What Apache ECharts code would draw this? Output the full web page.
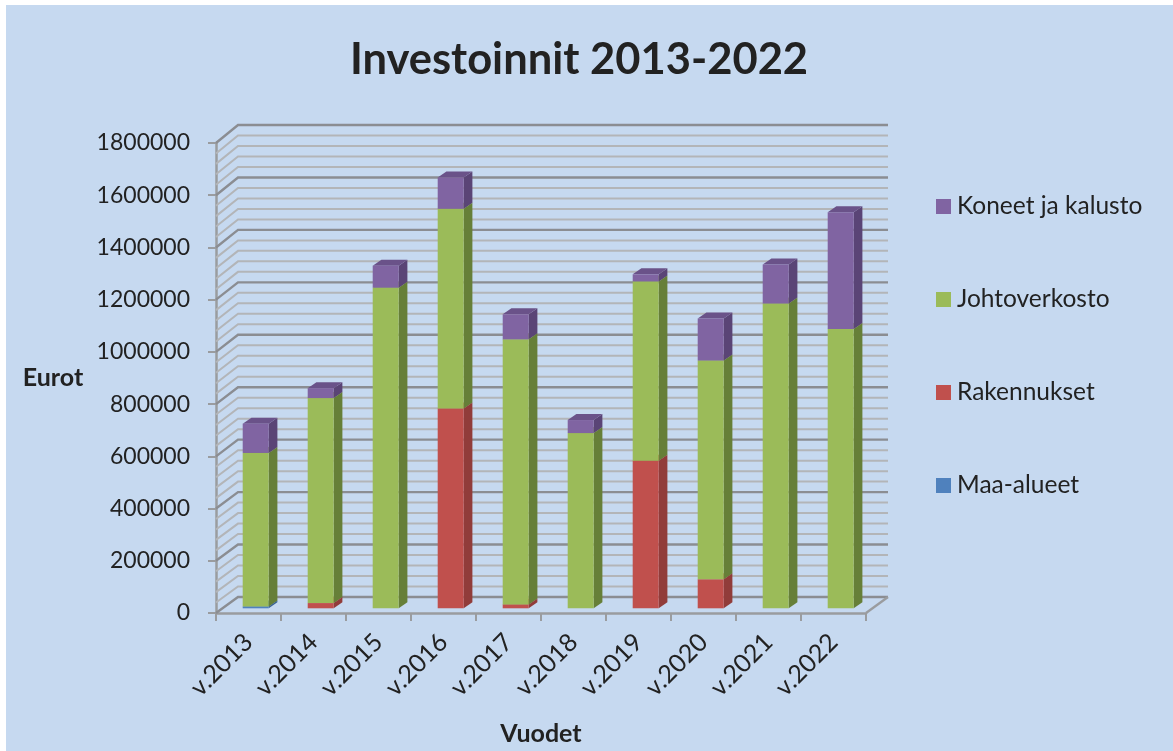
<!DOCTYPE html>
<html><head><meta charset="utf-8">
<style>
html,body{margin:0;padding:0;background:#fff;width:1173px;height:751px;overflow:hidden}
#bg{position:absolute;left:6px;top:5px;width:1167px;height:746px;background:#c6d9f0}
#c{position:absolute;left:0;top:0;width:1173px;height:751px}
</style>
<script src="https://cdn.jsdelivr.net/npm/echarts@6/dist/echarts.min.js"></script>
</head><body><div id="bg"></div><div id="c"></div>
<script>
const categories = ['v.2013','v.2014','v.2015','v.2016','v.2017','v.2018','v.2019','v.2020','v.2021','v.2022'];
const maaAlueet     = [7000, 0, 0, 0, 0, 0, 0, 0, 0, 0];
const rakennukset   = [0, 20000, 0, 765000, 15000, 0, 565000, 111000, 0, 0];
const johtoverkosto = [588000, 785000, 1228000, 765000, 1015000, 671000, 687000, 838000, 1167000, 1070000];
const koneetJaKalusto = [112000, 38000, 84000, 120000, 96000, 50000, 27000, 161000, 150000, 447000];
const wallTicks = [];
for (let v = 0; v <= 1800000; v += 40000) wallTicks.push(v);
const seriesNames = ['Maa-alueet','Rakennukset','Johtoverkosto','Koneet ja kalusto'];
const seriesValues = [maaAlueet, rakennukset, johtoverkosto, koneetJaKalusto];
const legendOrder = ['Koneet ja kalusto','Johtoverkosto','Rakennukset','Maa-alueet'];
const frontColors = ['#4f81bd','#c0504d','#9bbb59','#8064a2'];
const sideColors  = ['#3a6291','#913c3a','#667f38','#5a4476'];
const topColors   = ['#44709f','#a64543','#7d9a46','#6a5289'];

const FONT = 'Lato';
const BAR_W = 26, BAR_SHIFT = 7.2, BASE_LIFT = 4.7, DX = 8.7, DY = 6;
const WALL_DX = 22, WALL_DY0 = 16, WALL_DY1 = 18, MAXV = 1800000;

function wallItem(params, api) {
  const v = api.value(0);
  const p = api.coord([0, v]);
  const size = api.size([1, 0])[0];
  const left = p[0] - size / 2;
  const right = left + size * categories.length;
  const y = p[1];
  const d = WALL_DY0 + (WALL_DY1 - WALL_DY0) * v / MAXV;
  const major = v % 200000 === 0;
  const col = major ? '#8b8d92' : '#b3b5b8';
  const pts = [[left, y], [left + WALL_DX, y - d], [right + WALL_DX, y - d]];
  const children = [{type:'polyline', shape:{points:pts}, style:{stroke:col, lineWidth:major?2.4:2, fill:null}}];
  if (v === 0) {
    children.push({type:'polyline', shape:{points:[[right, y],[right + WALL_DX, y - d]]}, style:{stroke:'#9a9c9f', lineWidth:2.4, fill:null}});
  }
  return {type:'group', children};
}

function barItem(idx) {
  return function (params, api) {
    const from = api.value(1), to = api.value(2);
    if (to <= from) return null;
    const a = api.coord([api.value(0), from]);
    const b = api.coord([api.value(0), to]);
    const x0 = a[0] - BAR_W / 2 + BAR_SHIFT, x1 = x0 + BAR_W;
    const y0 = a[1] - BASE_LIFT, y1 = b[1] - BASE_LIFT;
    return {type:'group', children:[
      {type:'polygon', shape:{points:[[x1,y0],[x1+DX,y0-DY],[x1+DX,y1-DY],[x1,y1]]}, style:{fill:sideColors[idx]}},
      {type:'polygon', shape:{points:[[x0,y1],[x1,y1],[x1+DX,y1-DY],[x0+DX,y1-DY]]}, style:{fill:topColors[idx]}},
      {type:'rect', shape:{x:x0,y:y1,width:BAR_W,height:y0-y1}, style:{fill:frontColors[idx]}}
    ]};
  };
}

const running = categories.map(() => 0);
const barSeries = seriesValues.map((vals, s) => {
  const data = vals.map((v, i) => { const f = running[i]; running[i] += v; return [i, f, running[i]]; });
  return {type:'custom', name:seriesNames[s], renderItem:barItem(s), data, clip:false, z:3+s,
    encode:{x:0,y:[1,2]}, itemStyle:{color:frontColors[s]}};
});

const chart = echarts.init(document.getElementById('c'), null, {renderer:'canvas', width:1173, height:751});
chart.setOption({
  animation:false,
  backgroundColor:'transparent',
  title:{text:'Investoinnit 2013-2022', left:574, top:33, textAlign:'center',
    textStyle:{fontFamily:FONT, fontSize:43.5, fontWeight:'bold', color:'#222222'}},
  legend:{orient:'vertical', left:931, top:189, data:legendOrder, icon:'rect', itemWidth:15, itemHeight:15,
    itemGap:68, itemStyle:{borderWidth:0},
    textStyle:{fontFamily:FONT, fontSize:24.5, color:'#222222', padding:[0,0,0,1]}},
  grid:{left:216, top:143, width:650, height:470},
  xAxis:{type:'category', data:categories, name:'Vuodet', nameLocation:'middle', nameGap:108,
    nameTextStyle:{fontFamily:FONT, fontSize:25, fontWeight:'bold', color:'#222222'},
    axisLine:{lineStyle:{color:'#9a9c9f', width:2.5}},
    axisTick:{show:true, length:8, lineStyle:{color:'#9a9c9f', width:2}},
    axisLabel:{rotate:45, fontFamily:FONT, fontSize:25, color:'#222222', margin:25, interval:0}},
  yAxis:{type:'value', min:0, max:1800000, interval:200000, name:'Eurot', nameLocation:'middle', nameRotate:0, nameGap:163,
    nameTextStyle:{fontFamily:FONT, fontSize:25, fontWeight:'bold', color:'#222222', align:'center'},
    splitLine:{show:false},
    axisLine:{show:true, lineStyle:{color:'#9a9c9f', width:2.5}},
    axisTick:{show:true, length:8, lineStyle:{color:'#9a9c9f', width:2}},
    axisLabel:{fontFamily:FONT, fontSize:23, color:'#222222', margin:26, formatter:(v)=>String(v)}},
  series:[{type:'custom', name:'walls', renderItem:wallItem, data:wallTicks.map(v=>[v]), clip:false, z:1,
     encode:{y:0}, silent:true}].concat(barSeries)
});
</script></body></html>
